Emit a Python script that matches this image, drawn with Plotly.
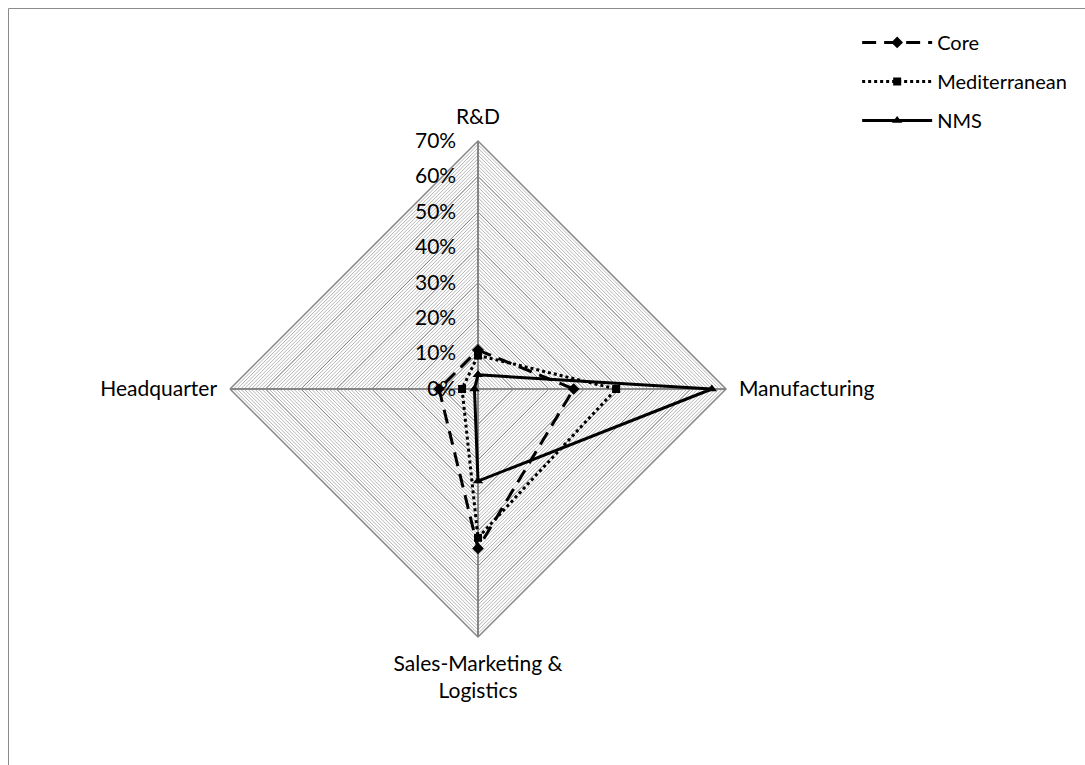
import plotly.graph_objects as go

# Business functions (angular categories) and share of each region
categories = ["R&D", "Manufacturing", "Sales-Marketing &<br>Logistics", "Headquarter"]
core = [0.11, 0.27, 0.45, 0.11]
mediterranean = [0.095, 0.39, 0.42, 0.045]
nms = [0.04, 0.66, 0.26, 0.01]

radial_ticks = [0.0, 0.1, 0.2, 0.3, 0.4, 0.5, 0.6, 0.7]
radial_ticktext = ["0%", "10%", "20%", "30%", "40%", "50%", "60%", "70%"]

FONT = "Lato"
W, H = 1085, 765
cx, cy, rad = 478, 389, 248
dom_x = [(cx - rad) / W, (cx + rad) / W]
dom_y = [1 - (cy + rad) / H, 1 - (cy - rad) / H]

fig = go.Figure()

# invisible trace so the minor-grid polar subplot is rendered
fig.add_trace(go.Scatterpolar(
    r=[0], theta=categories[:1], mode="markers",
    marker=dict(opacity=0), showlegend=False, hoverinfo="skip",
    subplot="polar",
))

series = [
    ("Core", core, "14px,8px", "diamond", 9),
    ("Mediterranean", mediterranean, "dot", "square", 8),
    ("NMS", nms, "solid", "triangle-up", 9),
]
for name, vals, dash, sym, ms in series:
    fig.add_trace(go.Scatterpolar(
        r=vals + vals[:1],
        theta=categories + categories[:1],
        name=name,
        legendgroup=name,
        mode="lines+markers",
        line=dict(color="black", width=3, dash=dash),
        marker=dict(symbol=sym, size=ms, color="black"),
        subplot="polar2",
    ))

common_angular = dict(
    direction="clockwise",
    rotation=90,
    type="category",
    categoryarray=categories,
)

fig.update_layout(
    width=W, height=H,
    margin=dict(l=0, r=0, t=0, b=0),
    paper_bgcolor="white",
    font=dict(family=FONT, size=21, color="black"),
    polar=dict(
        domain=dict(x=dom_x, y=dom_y),
        gridshape="linear",
        bgcolor="white",
        radialaxis=dict(range=[0, 0.7], dtick=0.01, showticklabels=False, ticks="",
                        showline=False, gridcolor="#b4b4b4", gridwidth=1, angle=90),
        angularaxis=dict(showticklabels=False, ticks="", showgrid=False,
                         showline=False, **common_angular),
    ),
    polar2=dict(
        domain=dict(x=dom_x, y=dom_y),
        gridshape="linear",
        bgcolor="rgba(0,0,0,0)",
        radialaxis=dict(range=[0, 0.7], tickvals=radial_ticks, ticktext=radial_ticktext,
                        showline=False, gridcolor="#868686", gridwidth=1, angle=90,
                        side="counterclockwise", tickangle=90, ticks="outside",
                        ticklen=14, tickcolor="rgba(0,0,0,0)",
                        tickfont=dict(family=FONT, size=21, color="black")),
        angularaxis=dict(showgrid=True, gridcolor="#868686", gridwidth=1.5,
                         showline=True, linecolor="#868686", linewidth=1.5,
                         ticks="outside", ticklen=8, tickcolor="rgba(0,0,0,0)",
                         tickfont=dict(family=FONT, size=21, color="black"),
                         **common_angular),
    ),
    legend=dict(
        x=0.79, y=0.97, xanchor="left", yanchor="top",
        font=dict(family=FONT, size=20, color="black"),
        itemwidth=70, tracegroupgap=10,
        bgcolor="rgba(0,0,0,0)",
    ),
    shapes=[dict(type="rect", xref="paper", yref="paper",
                 x0=8.5 / W, x1=1.02, y0=-0.02, y1=1 - 8.5 / H,
                 line=dict(color="#8c8c8c", width=1))],
)

fig.write_html("out.html")
